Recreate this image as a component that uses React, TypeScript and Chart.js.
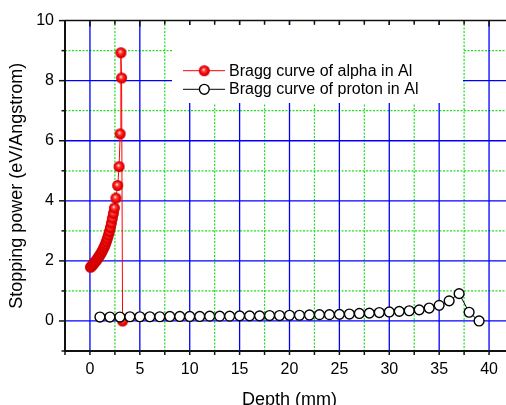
import React, { useEffect, useRef } from "react";
import { Chart, registerables } from "chart.js";

Chart.register(...registerables);

// ---- data ----
const seriesLabels = ["Bragg curve of alpha in Al", "Bragg curve of proton in Al"];
const xAxisTitle = "Depth (mm)";
const yAxisTitle = "Stopping power (eV/Angstrom)";

const alphaDepth = [
  0.05, 0.15, 0.25, 0.35, 0.45, 0.55, 0.65, 0.75, 0.85, 0.95, 1.05, 1.15, 1.25, 1.35, 1.45,
  1.55, 1.65, 1.75, 1.85, 1.95, 2.05, 2.15, 2.25, 2.35, 2.45, 2.6, 2.78, 2.92, 3.03, 3.1, 3.17, 3.27,
];
const alphaPower = [
  1.79, 1.82, 1.86, 1.9, 1.94, 1.98, 2.02, 2.07, 2.12, 2.17, 2.22, 2.28, 2.34, 2.41, 2.48,
  2.56, 2.65, 2.75, 2.86, 2.98, 3.11, 3.26, 3.42, 3.58, 3.76, 4.09, 4.51, 5.14, 6.23, 8.93, 8.09, 0.0,
];

const protonDepth = [
  1, 2, 3, 4, 5, 6, 7, 8, 9, 10, 11, 12, 13, 14, 15, 16, 17, 18, 19, 20,
  21, 22, 23, 24, 25, 26, 27, 28, 29, 30, 31, 32, 33, 34, 35, 36, 37, 38, 39,
];
const protonPower = [
  0.13, 0.13, 0.13, 0.14, 0.14, 0.14, 0.14, 0.15, 0.15, 0.15, 0.15, 0.16, 0.16, 0.16, 0.17, 0.17, 0.17, 0.18, 0.18, 0.19,
  0.19, 0.2, 0.21, 0.21, 0.22, 0.23, 0.25, 0.26, 0.28, 0.3, 0.32, 0.34, 0.37, 0.43, 0.52, 0.67, 0.91, 0.29, 0.0,
];

const xMajorTicks = [0, 5, 10, 15, 20, 25, 30, 35, 40];
const xTickLabels = ["0", "5", "10", "15", "20", "25", "30", "35", "40"];
const xMinorTicks = [-2.5, 2.5, 7.5, 12.5, 17.5, 22.5, 27.5, 32.5, 37.5, 42.5];
const yMajorTicks = [0, 2, 4, 6, 8, 10];
const yTickLabels = ["0", "2", "4", "6", "8", "10"];
const yMinorTicks = [-1, 1, 3, 5, 7, 9];

const X_MIN = -2.5;
const X_MAX = 42.5;
const Y_MIN = -1;
const Y_MAX = 10;

// ---- layout ----
const W = 525;
const H = 420;
const FONT = "'Liberation Sans', Arial, Helvetica, sans-serif";

function makeSphere(r: number): HTMLCanvasElement {
  const size = Math.ceil(r * 2) + 2;
  const c = document.createElement("canvas");
  c.width = size;
  c.height = size;
  const g = c.getContext("2d")!;
  const cx = size / 2;
  const cy = size / 2;
  const grad = g.createRadialGradient(cx - 0.8, cy - 1.2, 0.3, cx, cy, r);
  grad.addColorStop(0, "#ffe8e8");
  grad.addColorStop(0.28, "#ff4040");
  grad.addColorStop(0.7, "#f00000");
  grad.addColorStop(1, "#c00000");
  g.fillStyle = grad;
  g.beginPath();
  g.arc(cx, cy, r, 0, Math.PI * 2);
  g.fill();
  return c;
}

function strokeLine(ctx: CanvasRenderingContext2D, x1: number, y1: number, x2: number, y2: number) {
  ctx.beginPath();
  ctx.moveTo(x1, y1);
  ctx.lineTo(x2, y2);
  ctx.stroke();
}

export default function App() {
  const ref = useRef<HTMLCanvasElement | null>(null);

  useEffect(() => {
    document.body.style.overflow = "hidden";
    const canvas = ref.current!;
    const sphere = makeSphere(5.5);

    const gridPlugin = {
      id: "customGrid",
      beforeDatasetsDraw(chart: any) {
        const { ctx, chartArea: a } = chart;
        const xs = chart.scales.x;
        const ys = chart.scales.y;
        ctx.save();
        // minor grid (green dotted)
        ctx.lineWidth = 1.2;
        ctx.strokeStyle = "#22dd22";
        ctx.setLineDash([2, 1.5]);
        for (const v of xMinorTicks) {
          if (v <= X_MIN || v >= X_MAX) continue;
          const px = xs.getPixelForValue(v);
          strokeLine(ctx, px, a.top, px, a.bottom);
        }
        for (const v of yMinorTicks) {
          if (v <= Y_MIN || v >= Y_MAX) continue;
          const py = ys.getPixelForValue(v);
          strokeLine(ctx, a.left, py, a.right, py);
        }
        // major grid (blue solid)
        ctx.setLineDash([]);
        ctx.lineWidth = 1.3;
        ctx.strokeStyle = "#0000ff";
        for (const v of xMajorTicks) {
          const px = xs.getPixelForValue(v);
          strokeLine(ctx, px, a.top, px, a.bottom);
        }
        for (const v of yMajorTicks) {
          if (v >= Y_MAX) continue;
          const py = ys.getPixelForValue(v);
          strokeLine(ctx, a.left, py, a.right, py);
        }

        // frame: top border + ticks
        ctx.strokeStyle = "#111";
        ctx.lineWidth = 1.5;
        strokeLine(ctx, a.left, a.top, a.right, a.top);
        for (const v of xMajorTicks) {
          const px = xs.getPixelForValue(v);
          strokeLine(ctx, px, a.top, px, a.top + 6);
        }
        for (const v of xMinorTicks) {
          const px = xs.getPixelForValue(v);
          strokeLine(ctx, px, a.top, px, a.top + 4);
        }
        for (const v of [...xMajorTicks, ...xMinorTicks]) {
          const px = xs.getPixelForValue(v);
          strokeLine(ctx, px, a.bottom, px, a.bottom + 4);
        }
        for (const v of yMajorTicks) {
          const py = ys.getPixelForValue(v);
          strokeLine(ctx, a.left, py, a.left - 6, py);
        }
        for (const v of yMinorTicks) {
          const py = ys.getPixelForValue(v);
          strokeLine(ctx, a.left, py, a.left - 3.5, py);
        }
        ctx.lineWidth = 2;
        strokeLine(ctx, a.left, a.top, a.left, a.bottom + 1);
        strokeLine(ctx, a.left - 1, a.bottom, a.right, a.bottom);

        // legend box inside plot
        ctx.fillStyle = "#ffffff";
        ctx.fillRect(172, 25, 291, 78);
        const rows = [70.7, 89.3];
        chart.data.datasets.forEach((ds: any, i: number) => {
          const y = rows[i];
          ctx.strokeStyle = ds.borderColor;
          ctx.lineWidth = 1;
          strokeLine(ctx, 183, y, 225, y);
          if (ds.pointStyle instanceof HTMLCanvasElement) {
            ctx.drawImage(ds.pointStyle, 204.3 - ds.pointStyle.width / 2, y - ds.pointStyle.height / 2);
          } else {
            ctx.beginPath();
            ctx.arc(204.3, y, ds.pointRadius, 0, Math.PI * 2);
            ctx.fillStyle = ds.pointBackgroundColor;
            ctx.fill();
            ctx.lineWidth = ds.pointBorderWidth;
            ctx.strokeStyle = ds.pointBorderColor;
            ctx.stroke();
          }
          ctx.fillStyle = "#000";
          ctx.font = `16px ${FONT}`;
          ctx.textBaseline = "middle";
          ctx.textAlign = "left";
          ctx.fillText(ds.label, 229, y + 0.5);
        });
        ctx.restore();
      },
    };

    const chart = new Chart(canvas, {
      type: "line",
      data: {
        datasets: [
          {
            label: seriesLabels[0],
            data: alphaDepth.map((x, i) => ({ x, y: alphaPower[i] })),
            borderColor: "#ff0000",
            borderWidth: 1,
            pointStyle: sphere as any,
            pointRadius: 5.5,
            pointHoverRadius: 5.5,
            tension: 0,
            order: 1,
          } as any,
          {
            label: seriesLabels[1],
            data: protonDepth.map((x, i) => ({ x, y: protonPower[i] })),
            borderColor: "#000000",
            borderWidth: 1,
            pointBackgroundColor: "#ffffff",
            pointBorderColor: "#000000",
            pointBorderWidth: 1.4,
            pointRadius: 4.9,
            pointHoverRadius: 4.9,
            tension: 0,
            order: 0,
          } as any,
        ],
      },
      options: {
        animation: false,
        responsive: false,
        devicePixelRatio: 1,
        events: [],
        layout: { padding: { top: 18, right: 11, left: 0, bottom: 0 } },
        plugins: { legend: { display: false }, tooltip: { enabled: false } },
        scales: {
          x: {
            type: "linear",
            position: "bottom",
            min: X_MIN,
            max: X_MAX,
            afterBuildTicks: (s: any) => {
              s.ticks = xMajorTicks.map((v) => ({ value: v }));
            },
            afterFit: (s: any) => {
              s.height = H - 351;
            },
            ticks: {
              autoSkip: false,
              maxRotation: 0,
              padding: 9,
              color: "#000",
              font: { family: FONT, size: 16 },
              callback: (v: any) => {
                const i = xMajorTicks.indexOf(Number(v));
                return i >= 0 ? xTickLabels[i] : "";
              },
            },
            grid: { display: false, drawTicks: false },
            border: { display: false },
            title: {
              display: true,
              text: xAxisTitle,
              color: "#000",
              font: { family: FONT, size: 18 },
              padding: { top: 0, bottom: 9 },
            },
          },
          y: {
            type: "linear",
            min: Y_MIN,
            max: Y_MAX,
            afterBuildTicks: (s: any) => {
              s.ticks = yMajorTicks.map((v) => ({ value: v }));
            },
            afterFit: (s: any) => {
              s.width = 65;
            },
            ticks: {
              autoSkip: false,
              padding: 11,
              color: "#000",
              font: { family: FONT, size: 16 },
              callback: (v: any) => {
                const i = yMajorTicks.indexOf(Number(v));
                return i >= 0 ? yTickLabels[i] : "";
              },
            },
            grid: { display: false, drawTicks: false },
            border: { display: false },
            title: {
              display: true,
              text: yAxisTitle,
              color: "#000",
              font: { family: FONT, size: 18 },
              padding: { top: 6, bottom: 0 },
            },
          },
        },
      },
      plugins: [gridPlugin],
    } as any);

    return () => chart.destroy();
  }, []);

  return (
    <div style={{ position: "fixed", left: 0, top: 0, width: W, height: H, background: "#fff" }}>
      <canvas ref={ref} width={W} height={H} style={{ display: "block", width: W, height: H }} />
    </div>
  );
}
